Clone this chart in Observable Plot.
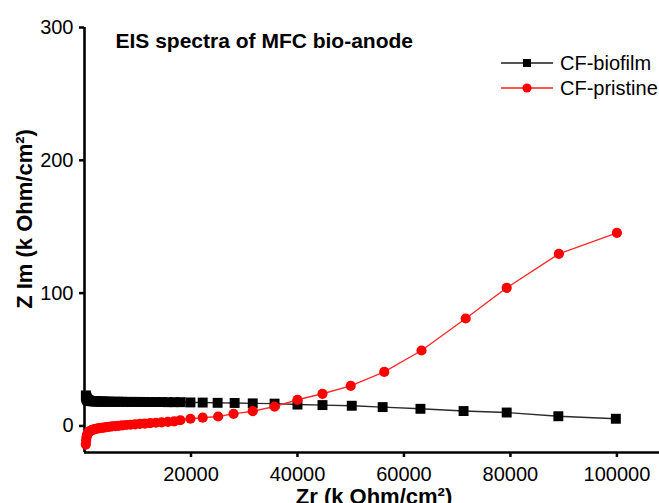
<!DOCTYPE html>
<html>
<head>
<meta charset="utf-8">
<script src="https://cdn.jsdelivr.net/npm/d3@7"></script>
<script src="https://cdn.jsdelivr.net/npm/@observablehq/plot@0.6"></script>
<style>
  html, body { margin: 0; padding: 0; background: white; }
  #fig { position: relative; width: 659px; height: 503px; overflow: hidden; background: white; font-family: "Liberation Sans", Arial, sans-serif; }
  #legend { position: absolute; left: 501px; top: 51px; }
  #legend .row { display: flex; align-items: center; height: 24.4px; }
  #legend .row span { margin-left: 7px; font-size: 20px; color: #000; line-height: 1; }
  #legend svg { display: block; }
</style>
</head>
<body>
<div id="fig"></div>
<script>
// ---- data ----
const seriesNames = ["CF-biofilm", "CF-pristine"];

const biofilmZr = [250, 300, 360, 430, 510, 600, 700, 820, 950, 1100, 1280, 1480, 1700, 1950, 2230, 2540,
  2880, 3250, 3650, 4100, 4600, 5150, 5750, 6400, 7100, 7850, 8650, 9500, 10400, 11350, 12350, 13400,
  14500, 15650, 16850, 18050, 19900, 22200, 25000, 28200, 31600, 35700, 40000, 44700, 50200, 56000,
  63100, 71200, 79300, 89000, 99800];
const biofilmZim = [23, 22, 21.2, 20.5, 20, 19.6, 19.3, 19.1, 18.9, 18.8, 18.7, 18.6, 18.6, 18.5, 18.5, 18.4,
  18.4, 18.4, 18.3, 18.3, 18.3, 18.2, 18.2, 18.2, 18.2, 18.1, 18.1, 18.1, 18.1, 18, 18, 18,
  18, 17.9, 17.9, 17.9, 17.7, 17.6, 17.4, 17.3, 17.0, 16.8, 16.1, 15.7, 15.2, 14.2,
  12.9, 11.2, 10.1, 7.3, 5.4];

const pristineZr = [250, 300, 360, 430, 510, 600, 700, 820, 950, 1100, 1280, 1480, 1700, 1950, 2230, 2540,
  2880, 3250, 3650, 4100, 4600, 5150, 5750, 6400, 7100, 7850, 8650, 9500, 10400, 11350, 12350, 13400,
  14500, 15650, 16850, 18000, 19900, 22200, 25100, 28000, 31600, 35700, 40000, 44700, 50000, 56300,
  63300, 71600, 79300, 89100, 100000];
const pristineZim = [-14, -11, -9, -7.6, -6.5, -5.7, -5, -4.5, -4.1, -3.7, -3.3, -3, -2.7, -2.4, -2.1, -1.9,
  -1.6, -1.4, -1.2, -0.9, -0.7, -0.4, -0.2, 0.1, 0.4, 0.7, 0.9, 1.2, 1.5, 1.8, 2.1, 2.4,
  2.7, 3.0, 3.4, 4.3, 5.4, 6.2, 7.1, 9.1, 11.1, 14.6, 19.7, 24.2, 30.2, 40.7,
  56.8, 80.9, 104, 129.6, 145.4];

const xTicks = [20000, 40000, 60000, 80000, 100000];
const yTicks = [0, 100, 200, 300];
const xDomain = [0, 108000];
const yDomain = [-20, 300];

const titleText = "EIS spectra of MFC bio-anode";
const xLabel = "Zr (k Ohm/cm\u00B2)";
const yLabel = "Z Im (k Ohm/cm\u00B2)";

// ---- build tables ----
const biofilm = biofilmZr.map((x, i) => ({x, y: biofilmZim[i]}));
const pristine = pristineZr.map((x, i) => ({x, y: pristineZim[i]}));

const blackLine = "#2a2a2a";
const redLine = "#ff2a2a";

const chart = Plot.plot({
  width: 659,
  height: 503,
  marginLeft: 84,
  marginRight: 0,
  marginTop: 27,
  marginBottom: 51,
  style: {fontFamily: "'Liberation Sans', Arial, sans-serif", fontSize: "20px", background: "white", color: "black", overflow: "visible"},
  x: {domain: xDomain},
  y: {domain: yDomain},
  marks: [
    Plot.axisX({ticks: xTicks, tickFormat: d3.format("d"), tickSize: 5, tickPadding: 9, strokeWidth: 2.5, label: null, fontSize: 20}),
    Plot.axisY({ticks: yTicks, tickFormat: d3.format("d"), tickSize: 5, tickPadding: 6, strokeWidth: 2.5, label: null, fontSize: 20}),
    Plot.ruleY([yDomain[0]], {stroke: "black", strokeWidth: 2.6}),
    Plot.ruleX([0], {y1: yDomain[0], y2: yDomain[1], stroke: "black", strokeWidth: 2.6}),
    Plot.line(biofilm, {x: "x", y: "y", stroke: blackLine, strokeWidth: 1.4}),
    Plot.dot(biofilm, {x: "x", y: "y", symbol: "square", r: 5.6, fill: "black", stroke: "none"}),
    Plot.line(pristine, {x: "x", y: "y", stroke: redLine, strokeWidth: 1.4}),
    Plot.dot(pristine, {x: "x", y: "y", symbol: "circle", r: 5.1, fill: "#ff0000", stroke: "none"}),
    Plot.text([titleText], {frameAnchor: "top-left", textAnchor: "start", lineAnchor: "top", dx: 31, dy: 6, fontWeight: "bold", fontSize: 21, fill: "black"}),
    Plot.text([xLabel], {frameAnchor: "bottom", textAnchor: "middle", lineAnchor: "top", dx: 2, dy: 36, fontWeight: "bold", fontSize: 22, fill: "black"}),
    Plot.text([yLabel], {frameAnchor: "left", textAnchor: "middle", lineAnchor: "middle", rotate: -90, dx: -60, dy: -21, fontWeight: "bold", fontSize: 22, fill: "black"})
  ]
});

const fig = document.getElementById("fig");
fig.appendChild(chart);

// ---- legend ----
const legend = d3.select(fig).append("div").attr("id", "legend");
const legendDefs = [
  {name: seriesNames[0], line: "#555", fill: "black", symbol: d3.symbolSquare, size: 64},
  {name: seriesNames[1], line: "#ff5555", fill: "#ff0000", symbol: d3.symbolCircle, size: 66}
];
legendDefs.forEach(d => {
  const row = legend.append("div").attr("class", "row");
  const s = row.append("svg").attr("width", 52).attr("height", 14);
  s.append("line").attr("x1", 0).attr("x2", 52).attr("y1", 7).attr("y2", 7).attr("stroke", d.line).attr("stroke-width", 2);
  s.append("path").attr("d", d3.symbol(d.symbol, d.size)()).attr("transform", "translate(26,7)").attr("fill", d.fill);
  row.append("span").text(d.name);
});
</script>
</body>
</html>
